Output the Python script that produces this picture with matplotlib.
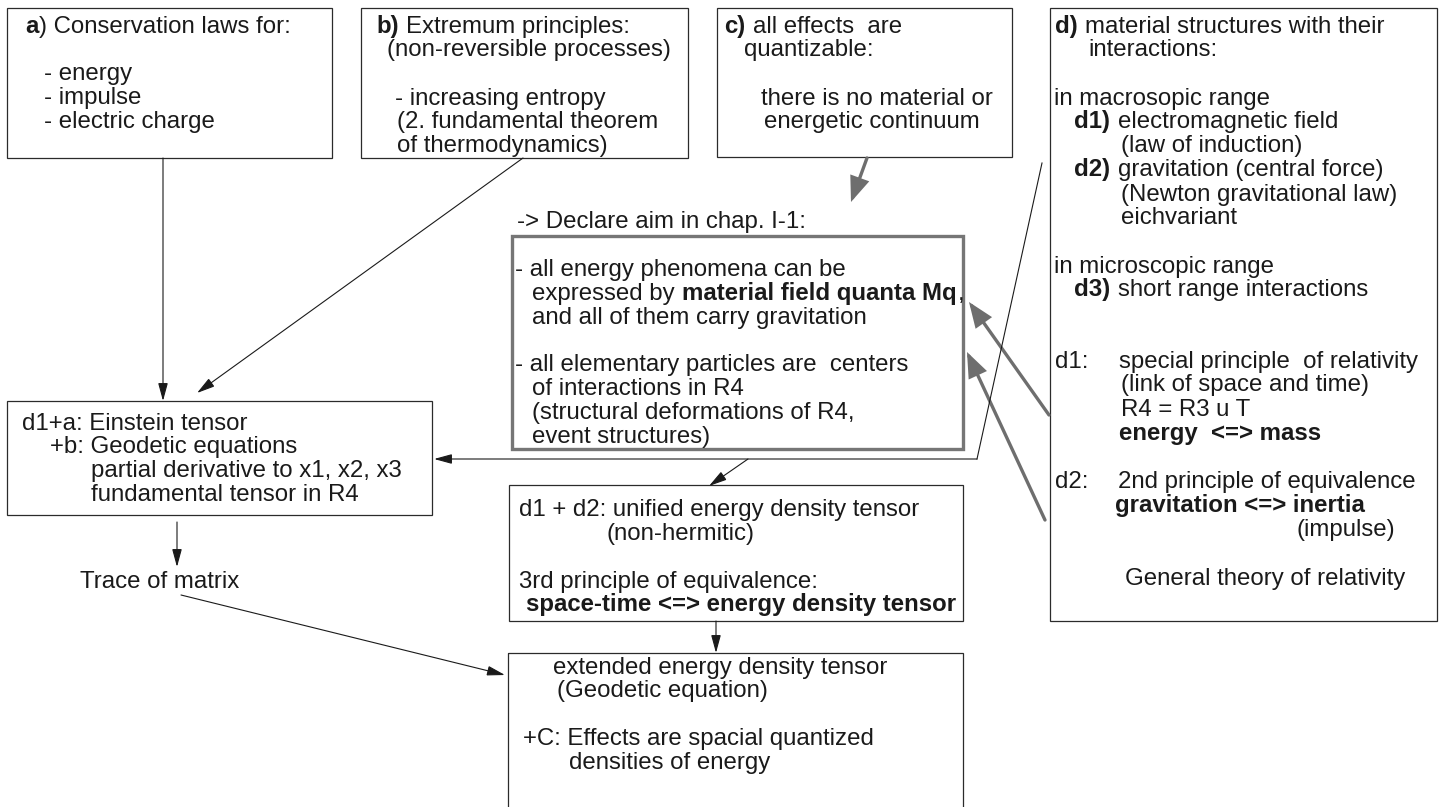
import matplotlib
matplotlib.use("Agg")
import matplotlib.pyplot as plt
from matplotlib.patches import Rectangle, FancyArrowPatch

plt.rcParams['font.family'] = ['Liberation Sans', 'DejaVu Sans']

# texts of the boxes, ** marks a bold piece
box_a_text = ["**a**) Conservation laws for:", "- energy", "- impulse", "- electric charge"]
box_b_text = ["**b)** Extremum principles:", "(non-reversible processes)",
              "- increasing entropy", "(2. fundamental theorem", "of thermodynamics)"]
box_c_text = ["**c)** all effects  are", "quantizable:", "there is no material or", "energetic continuum"]
box_d_text = ["**d)** material structures with their", "interactions:",
              "in macrosopic range", "**d1)** electromagnetic field", "(law of induction)",
              "**d2)** gravitation (central force)", "(Newton gravitational law)", "eichvariant",
              "in microscopic range", "**d3)** short range interactions",
              "d1:", "special principle  of relativity", "(link of space and time)", "R4 = R3 u T",
              "**energy  <=> mass**",
              "d2:", "2nd principle of equivalence", "**gravitation <=> inertia**", "(impulse)",
              "General theory of relativity"]
aim_title = "-> Declare aim in chap. I-1:"
aim_text = ["- all energy phenomena can be", "expressed by **material field quanta Mq**,",
            "and all of them carry gravitation",
            "- all elementary particles are  centers", "of interactions in R4",
            "(structural deformations of R4,", "event structures)"]
einstein_text = ["d1+a: Einstein tensor", "+b: Geodetic equations",
                 "partial derivative to x1, x2, x3", "fundamental tensor in R4"]
trace_text = "Trace of matrix"
unified_text = ["d1 + d2: unified energy density tensor", "(non-hermitic)",
                "3rd principle of equivalence:", "**space-time <=> energy density tensor**"]
extended_text = ["extended energy density tensor", "(Geodetic equation)",
                 "+C: Effects are spacial quantized", "densities of energy"]

# layout in pixels (x from left, y from top)
box_a_pos = [(25, 33), (44, 80), (44, 104), (44, 128)]
box_b_pos = [(376, 33), (387, 56), (395, 105), (397, 128), (397, 152)]
box_c_pos = [(724, 33), (744, 56), (761, 105), (764, 128)]
box_d_pos = [(1055, 33), (1088, 56), (1054, 105), (1074, 128), (1121, 152),
             (1074, 176), (1121, 201), (1121, 224), (1054, 273), (1074, 296),
             (1055, 368), (1119, 368), (1121, 391), (1121, 416), (1119, 440),
             (1055, 488), (1118, 488), (1115, 512), (1296, 536), (1125, 585)]
aim_title_pos = (517, 228)
aim_pos = [(515, 276), (532, 300), (532, 324), (515, 371), (532, 395), (532, 419), (532, 443)]
einstein_pos = [(22, 430), (50, 453), (91, 477), (91, 501)]
trace_pos = (80, 588)
unified_pos = [(519, 516), (606, 540), (519, 588), (526, 611)]
extended_pos = [(553, 674), (557, 697), (523, 745), (569, 769)]

# boxes: x0, y0, x1, y1
boxes = [(7, 8, 332, 158), (361, 8, 688, 158), (717, 8, 1012, 157), (1050, 8, 1437, 621),
         (7, 401, 432, 515), (509, 485, 963, 621), (508, 653, 963, 830)]
aim_box = (512, 236, 963, 449)

black_arrows = [((163, 158), (163, 401)), ((523, 158), (197, 393)), ((748, 459), (709, 486)),
                ((177, 522), (177, 567)), ((181, 595), (505, 675)), ((716, 621), (716, 653))]
d_line = [(1042, 163), (977, 459), (434, 459)]
gray_arrows = [((867, 158), (851, 202)), ((1049, 415), (969, 302)), ((1045, 520), (967, 352))]

W, H = 1442, 807
fig = plt.figure(figsize=(W / 100, H / 100), dpi=100)
ax = fig.add_axes([0, 0, 1, 1])
ax.set_xlim(0, W)
ax.set_ylim(H, 0)
ax.axis('off')
renderer = fig.canvas.get_renderer()
FS = 17.3
SP = 0.278 * 24  # width of a space in px


def put(x, y, line):
    parts = line.split('**')
    for i, p in enumerate(parts):
        if not p:
            continue
        lead = len(p) - len(p.lstrip(' '))
        trail = len(p) - len(p.rstrip(' '))
        x += lead * SP
        s = p.strip(' ')
        if s:
            t = ax.text(x, y, s, fontsize=FS, fontweight='bold' if i % 2 else 'normal',
                        va='baseline', ha='left', color='#1a1a1a')
            x += t.get_window_extent(renderer).width + 1
        x += trail * SP


for lines, pos in [(box_a_text, box_a_pos), (box_b_text, box_b_pos), (box_c_text, box_c_pos),
                   (box_d_text, box_d_pos), (aim_text, aim_pos), (einstein_text, einstein_pos),
                   (unified_text, unified_pos), (extended_text, extended_pos)]:
    for line, (x, y) in zip(lines, pos):
        put(x, y, line)
put(aim_title_pos[0], aim_title_pos[1], aim_title)
put(trace_pos[0], trace_pos[1], trace_text)

for x0, y0, x1, y1 in boxes:
    ax.add_patch(Rectangle((x0, y0), x1 - x0, y1 - y0, fill=False, ec='#2b2b2b', lw=0.9))
x0, y0, x1, y1 = aim_box
ax.add_patch(Rectangle((x0, y0), x1 - x0, y1 - y0, fill=False, ec='#767676', lw=2.4))


def arrow(p, q, color, lw, hl, hw):
    ax.add_patch(FancyArrowPatch(p, q, arrowstyle=f'-|>,head_length={hl},head_width={hw}',
                                 mutation_scale=1, shrinkA=0, shrinkB=0,
                                 color=color, lw=lw, joinstyle='miter'))


for p, q in black_arrows:
    arrow(p, q, '#1a1a1a', 0.8, 11, 3)
ax.plot([d_line[0][0], d_line[1][0]], [d_line[0][1], d_line[1][1]], color='#1a1a1a', lw=0.8)
arrow(d_line[1], d_line[2], '#1a1a1a', 0.8, 11, 3)
for p, q in gray_arrows:
    arrow(p, q, '#6e6e6e', 2.4, 14, 5.5)

fig.savefig('out.png', dpi=100)
